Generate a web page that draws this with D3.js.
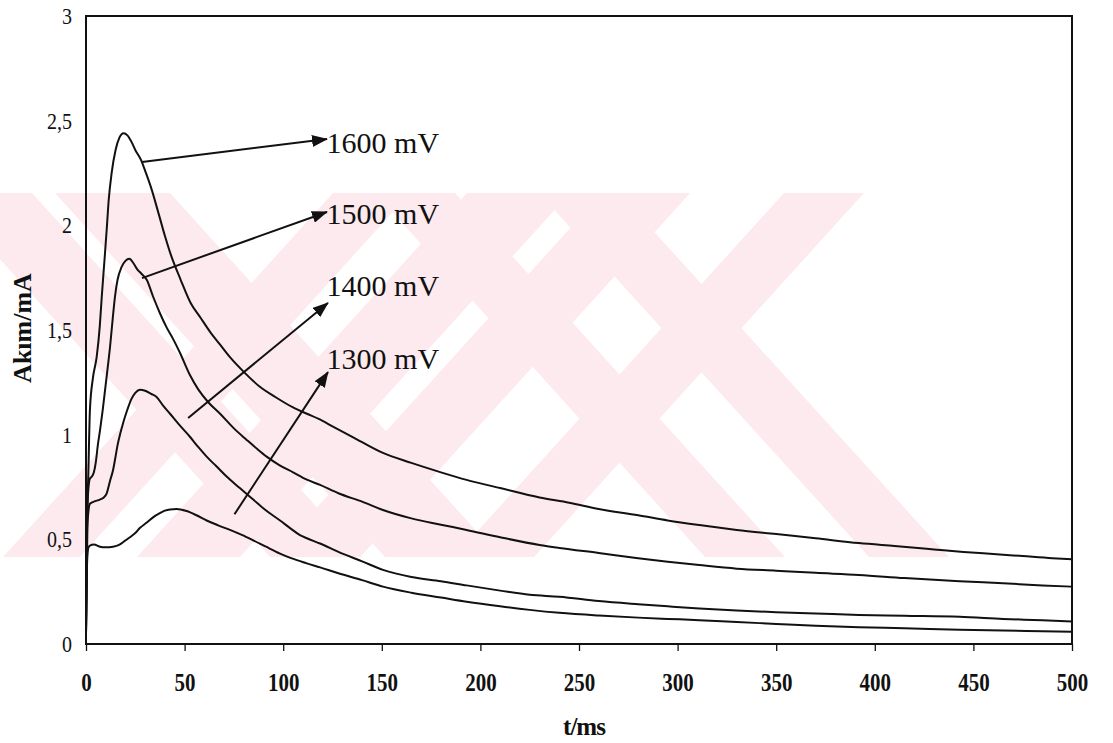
<!DOCTYPE html>
<html>
<head>
<meta charset="utf-8">
<script src="https://cdn.jsdelivr.net/npm/d3@7"></script>
<style>
  body { margin: 0; background: #fff; }
  svg { display: block; }
  text { font-family: "Liberation Serif", "Times New Roman", serif; fill: #111; }
  .stretch { transform-box: fill-box; transform-origin: center; transform: scaleY(1.18); }
</style>
</head>
<body>
<svg id="chart" width="1113" height="743"></svg>
<script>
// ---- data: current transients (t in ms, current in mA) ----
const xTicks = [0, 50, 100, 150, 200, 250, 300, 350, 400, 450, 500];
const yTicks = [0, 0.5, 1, 1.5, 2, 2.5, 3];
const yTickLabels = ["0", "0,5", "1", "1,5", "2", "2,5", "3"];

const curve1600 = [[0,0.05],[0.5,0.55],[1.2,0.82],[2,1.12],[3.5,1.27],[5.4,1.37],[7,1.52],[8,1.66],[9.5,1.85],[10.5,1.98],[11.5,2.12],[13,2.25],[15,2.36],[17,2.42],[19,2.44],[21,2.43],[23,2.4],[25,2.36],[28,2.31],[30,2.26],[33,2.18],[37,2.05],[40,1.95],[43,1.86],[48,1.74],[53,1.63],[58,1.56],[63,1.49],[68,1.43],[73,1.37],[80,1.30],[88,1.23],[96,1.18],[105,1.13],[112,1.10],[118,1.075],[125,1.04],[135,0.99],[150,0.915],[165,0.865],[180,0.82],[193,0.784],[210,0.745],[230,0.70],[245,0.675],[260,0.645],[280,0.615],[295,0.59],[311,0.568],[330,0.545],[350,0.525],[370,0.505],[392,0.482],[410,0.468],[430,0.452],[445,0.44],[460,0.43],[475,0.42],[490,0.41],[500,0.405]];

const curve1500 = [[0,0.05],[0.6,0.6],[1.2,0.74],[2,0.79],[3,0.8],[4,0.82],[5,0.87],[6,0.95],[7.1,1.02],[8.5,1.12],[10,1.24],[11,1.32],[12.2,1.42],[13.5,1.55],[14.7,1.66],[16,1.74],[18,1.8],[20,1.83],[22,1.84],[24,1.82],[26,1.79],[28,1.77],[30.8,1.74],[34,1.66],[37.5,1.58],[41,1.51],[44,1.46],[47.7,1.39],[52.7,1.285],[57,1.215],[62,1.155],[68,1.10],[75,1.03],[81.5,0.975],[87,0.93],[91.6,0.895],[98,0.855],[105,0.82],[112,0.785],[118.7,0.76],[128,0.72],[140,0.68],[150.6,0.64],[165,0.6],[180,0.57],[193,0.545],[210,0.51],[230,0.473],[240,0.459],[260,0.435],[280,0.41],[295,0.393],[311,0.377],[330,0.36],[350,0.35],[370,0.34],[392,0.33],[415,0.315],[443,0.30],[465,0.29],[485,0.28],[500,0.274]];

const curve1400 = [[0,0.05],[0.7,0.55],[1.3,0.64],[2,0.67],[4,0.68],[7,0.69],[9,0.7],[10.5,0.72],[12.2,0.78],[13.7,0.83],[14.7,0.88],[16,0.95],[17.5,1.01],[18.8,1.055],[21,1.12],[23,1.17],[25,1.2],[27.4,1.215],[30,1.21],[33,1.195],[35.8,1.18],[39,1.14],[42.6,1.10],[47,1.05],[52.7,0.99],[57,0.94],[61.2,0.895],[66,0.85],[71.3,0.80],[78,0.745],[84.8,0.69],[91,0.64],[98.4,0.59],[104,0.55],[108.5,0.52],[112,0.505],[118.7,0.48],[128,0.44],[140,0.395],[150.6,0.354],[165,0.32],[180,0.3],[193,0.28],[210,0.255],[225,0.235],[240,0.226],[260,0.205],[280,0.19],[295,0.18],[311,0.17],[330,0.16],[350,0.152],[370,0.146],[392,0.139],[415,0.135],[443,0.13],[465,0.12],[485,0.113],[500,0.107]];

const curve1300 = [[0,0.05],[0.6,0.4],[1.2,0.46],[2,0.47],[4,0.475],[7,0.465],[10,0.462],[13.7,0.465],[17,0.475],[20,0.495],[22.3,0.51],[25,0.53],[27.4,0.555],[30.8,0.58],[34,0.605],[37.5,0.625],[40,0.637],[42.6,0.643],[46,0.645],[51,0.635],[56,0.615],[61.2,0.59],[67,0.567],[73,0.545],[79,0.521],[84.8,0.495],[91,0.466],[98.4,0.432],[104,0.41],[108.5,0.396],[112,0.385],[118.7,0.366],[128,0.338],[140,0.305],[150.6,0.274],[165,0.245],[180,0.222],[193,0.202],[210,0.18],[225,0.163],[240,0.149],[260,0.136],[280,0.126],[295,0.12],[311,0.114],[330,0.105],[350,0.096],[370,0.087],[392,0.08],[415,0.075],[443,0.068],[465,0.064],[485,0.061],[500,0.059]];

const seriesLabels = ["1600 mV", "1500 mV", "1400 mV", "1300 mV"];
// label baseline positions and arrow ends, in data units (ms, mA)
const labelAt   = [[122, 2.346], [122, 2.006], [122, 1.662], [122, 1.314]];
const arrowTail = [[28.4, 2.303], [28.4, 1.748], [51.8, 1.08], [75.3, 0.62]];
const arrowHead = [[122.2, 2.412], [122.2, 2.064], [122.7, 1.629], [122.7, 1.299]];

const allCurves = [curve1600, curve1500, curve1400, curve1300];

// ---- layout ----
const svg = d3.select("#chart");
const x = d3.scaleLinear().domain([0, 500]).range([86, 1072]);
const y = d3.scaleLinear().domain([0, 3]).range([644, 16]);

// faint background emblem made of slanted bands
const bandTop = 193, bandBottom = 557, run = 330;
const emblemBands = [["\\", -60, 92], ["\\", 55, 115], ["/", 3, 77], ["/", 137, 103],
                     ["\\", 375, 80], ["/", 454, 80], ["\\", 539, 80], ["/", 300, 60],
                     ["/", 272, 88]];
const emblem = svg.append("g").attr("fill", "#fdeaee");
emblemBands.forEach(([dir, x0, w]) => {
  const pts = dir === "\\"
    ? [[x0, bandTop], [x0 + w, bandTop], [x0 + w + run, bandBottom], [x0 + run, bandBottom]]
    : [[x0 + run, bandTop], [x0 + w + run, bandTop], [x0 + w, bandBottom], [x0, bandBottom]];
  emblem.append("polygon").attr("points", pts.map(p => p.join(",")).join(" "));
});

// plot frame
svg.append("rect")
  .attr("x", x(0)).attr("y", y(3))
  .attr("width", x(500) - x(0)).attr("height", y(0) - y(3))
  .attr("fill", "none").attr("stroke", "#111").attr("stroke-width", 2);

// x axis
const gx = svg.append("g").attr("transform", `translate(0,${y(0)})`)
  .call(d3.axisBottom(x).tickValues(xTicks).tickSize(7).tickFormat(d3.format("d")));
gx.select(".domain").remove();
gx.selectAll(".tick line").attr("stroke", "#111").attr("stroke-width", 1.3);
gx.selectAll(".tick text")
  .attr("y", 38).attr("dy", "0.35em")
  .attr("font-size", 21).attr("font-weight", "bold")
  .attr("font-family", "Liberation Serif, serif")
  .attr("class", "stretch");

// y axis
const gy = svg.append("g").attr("transform", `translate(${x(0)},0)`)
  .call(d3.axisLeft(y).tickValues(yTicks).tickSize(0).tickPadding(14)
    .tickFormat((d, i) => yTickLabels[i]));
gy.select(".domain").remove();
gy.selectAll(".tick text")
  .attr("font-size", 20)
  .attr("font-family", "Liberation Serif, serif")
  .attr("class", "stretch");

// current curves
const line = d3.line().x(d => x(d[0])).y(d => y(d[1])).curve(d3.curveMonotoneX);
svg.append("g").selectAll("path").data(allCurves).join("path")
  .attr("d", line)
  .attr("fill", "none").attr("stroke", "#111").attr("stroke-width", 2)
  .attr("stroke-linejoin", "round");

// arrows and voltage labels
svg.append("defs").append("marker")
  .attr("id", "head").attr("markerUnits", "userSpaceOnUse")
  .attr("viewBox", "0 0 16 12").attr("refX", 15).attr("refY", 6)
  .attr("markerWidth", 16).attr("markerHeight", 12).attr("orient", "auto")
  .append("path").attr("d", "M0,0 L16,6 L0,12 Z").attr("fill", "#111");

svg.append("g").selectAll("line").data(seriesLabels).join("line")
  .attr("x1", (d, i) => x(arrowTail[i][0])).attr("y1", (d, i) => y(arrowTail[i][1]))
  .attr("x2", (d, i) => x(arrowHead[i][0])).attr("y2", (d, i) => y(arrowHead[i][1]))
  .attr("stroke", "#111").attr("stroke-width", 2)
  .attr("marker-end", "url(#head)");

svg.append("g").selectAll("text").data(seriesLabels).join("text")
  .attr("x", (d, i) => x(labelAt[i][0]))
  .attr("y", (d, i) => y(labelAt[i][1]))
  .attr("font-size", 30)
  .text(d => d);

// axis titles
svg.append("text")
  .attr("transform", "translate(22,328) rotate(-90)")
  .attr("text-anchor", "middle").attr("dominant-baseline", "central")
  .attr("font-size", 26).attr("font-weight", "bold")
  .text("Akım/mA");

svg.append("text")
  .attr("x", 584).attr("y", 735)
  .attr("text-anchor", "middle")
  .attr("font-size", 25).attr("font-weight", "bold")
  .attr("letter-spacing", -1)
  .text("t/ms");
</script>
</body>
</html>
